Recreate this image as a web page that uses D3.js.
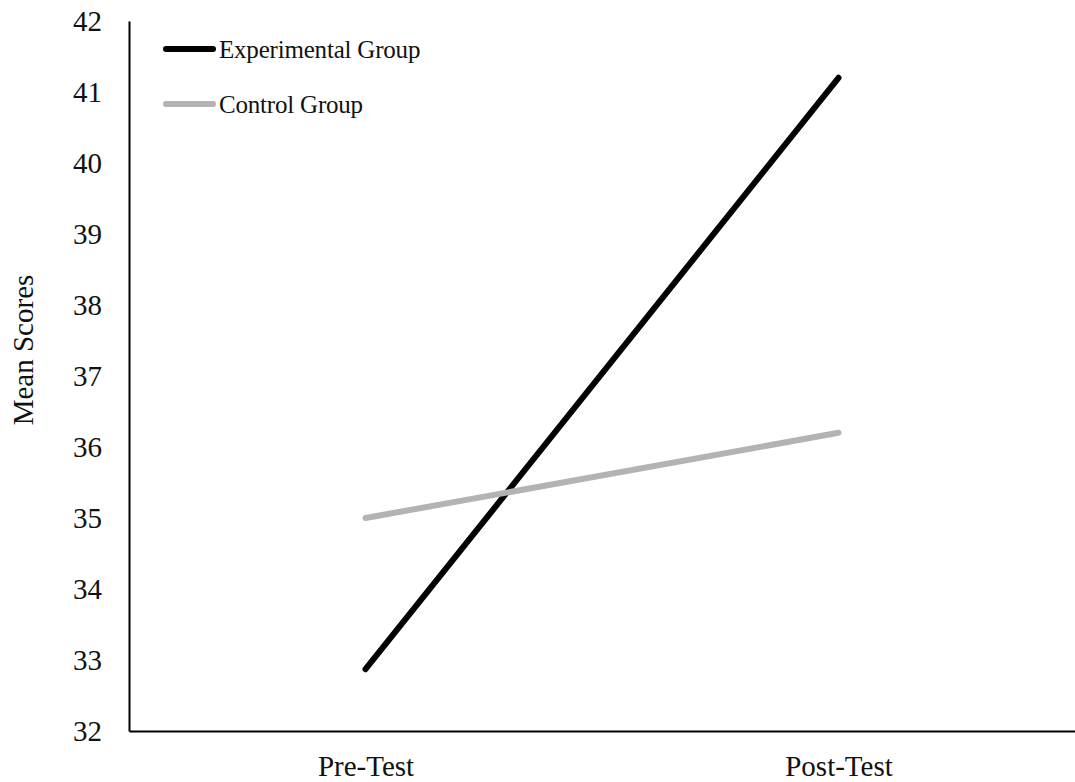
<!DOCTYPE html>
<html>
<head>
<meta charset="utf-8">
<script src="https://cdn.jsdelivr.net/npm/d3@7"></script>
<style>
  body { margin: 0; background: #fff; }
  text { font-family: "Liberation Serif", "Times New Roman", serif; fill: #111; }
</style>
</head>
<body>
<div id="chart"></div>
<script>
const phases = ['Pre-Test', 'Post-Test'];
const experimental = [32.87, 41.2];
const control = [35.0, 36.2];
const yTicks = [32, 33, 34, 35, 36, 37, 38, 39, 40, 41, 42];

const width = 1075;
const height = 782;
const margin = { top: 21, right: 0, bottom: 51, left: 129 };

const svg = d3.select('#chart')
  .append('svg')
  .attr('width', width)
  .attr('height', height);

const x = d3.scalePoint()
  .domain(phases)
  .range([margin.left, width - margin.right])
  .padding(0.5);

const y = d3.scaleLinear()
  .domain([32, 42])
  .range([height - margin.bottom, margin.top]);

// axes
svg.append('g')
  .attr('transform', `translate(${margin.left},0)`)
  .call(d3.axisLeft(y).tickValues(yTicks).tickSize(0).tickPadding(27))
  .call(g => g.select('.domain').attr('stroke', '#000').attr('stroke-width', 2))
  .call(g => g.selectAll('text').attr('font-size', 29).attr('font-family', '"Liberation Serif", serif').attr('fill', '#111'));

svg.append('g')
  .attr('transform', `translate(0,${height - margin.bottom})`)
  .call(d3.axisBottom(x).tickSize(0).tickPadding(24))
  .call(g => g.select('.domain').attr('stroke', '#000').attr('stroke-width', 2))
  .call(g => g.selectAll('text').attr('font-size', 29).attr('font-family', '"Liberation Serif", serif').attr('fill', '#111'));

svg.append('text')
  .attr('transform', `translate(33,350) rotate(-90)`)
  .attr('text-anchor', 'middle')
  .attr('font-size', 29)
  .text('Mean Scores');

const series = [
  { name: 'Experimental Group', values: experimental, color: '#000' },
  { name: 'Control Group', values: control, color: '#b3b3b3' }
];

const line = d3.line()
  .x((d, i) => x(phases[i]))
  .y(d => y(d));

svg.append('g')
  .selectAll('path')
  .data(series)
  .join('path')
    .attr('d', d => line(d.values))
    .attr('fill', 'none')
    .attr('stroke', d => d.color)
    .attr('stroke-width', 6)
    .attr('stroke-linecap', 'round');

// legend
const legend = svg.append('g')
  .selectAll('g')
  .data(series)
  .join('g')
    .attr('transform', (d, i) => `translate(166,${49 + i * 55})`);

legend.append('line')
  .attr('x1', 0).attr('x2', 47)
  .attr('stroke', d => d.color)
  .attr('stroke-width', 6)
  .attr('stroke-linecap', 'round');

legend.append('text')
  .attr('x', 53)
  .attr('dy', '0.35em')
  .attr('font-size', 25)
  .attr('letter-spacing', -0.2)
  .text(d => d.name);

svg.node();
</script>
</body>
</html>
